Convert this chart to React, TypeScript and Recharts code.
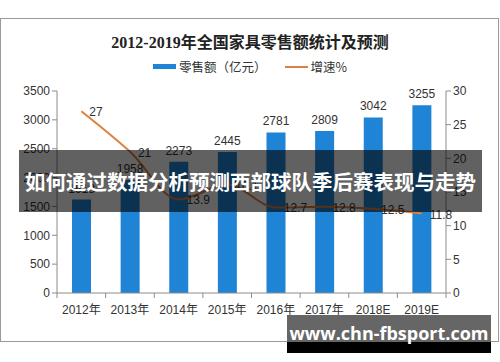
import React from 'react';
import {
  ComposedChart, Bar, Line, XAxis, YAxis, Legend, LabelList
} from 'recharts';

// chart values
const years = ['2012年', '2013年', '2014年', '2015年', '2016年', '2017年', '2018E', '2019E'];
const sales = [1618, 1958, 2273, 2445, 2781, 2809, 3042, 3255];
const growth = [27, 21, 13.9, 16.1, 12.7, 12.8, 12.5, 11.8];
const leftTicks = [0, 500, 1000, 1500, 2000, 2500, 3000, 3500];
const rightTicks = [0, 5, 10, 15, 20, 25, 30];

const BAR_BLUE = '#1f84d6';
const LINE_ORANGE = '#e07f3e';
const AXIS_GREY = '#8c8c8c';
const NUM_FONT = '"Liberation Sans", "Noto Sans CJK SC", sans-serif';

const data = years.map((year, i) => ({ year, sales: sales[i], growth: growth[i] }));

// x axis tick: label plus an Excel style tick mark on the category boundary
const HALF_BAND = 389 / years.length / 2;
const YearTick = (props: any) => {
  const { x, y, payload, index } = props;
  return (
    <g>
      <line x1={x - HALF_BAND} x2={x - HALF_BAND} y1={y - 8} y2={y - 3} stroke={AXIS_GREY} />
      {index === years.length - 1 && (
        <line x1={x + HALF_BAND} x2={x + HALF_BAND} y1={y - 8} y2={y - 3} stroke={AXIS_GREY} />
      )}
      <text x={x} y={y + 13} textAnchor="middle" fill="#333" fontSize={12} fontFamily={NUM_FONT}>
        {payload.value}
      </text>
    </g>
  );
};

const GrowthLabel = (props: any) => {
  const { x, y, value } = props;
  return (
    <text x={x + 8} y={y + 5} fill="#333" fontSize={12} fontFamily={NUM_FONT}>
      {value}
    </text>
  );
};

const LegendContent = () => (
  <div style={{ display: 'flex', justifyContent: 'center', alignItems: 'center', fontSize: 12.5, color: '#333', fontFamily: '"Noto Sans CJK SC", sans-serif' }}>
    <span style={{ display: 'inline-block', width: 23, height: 5, background: BAR_BLUE, marginRight: 3 }} />
    <span>零售额（亿元）</span>
    <span style={{ display: 'inline-block', width: 23, height: 2, background: LINE_ORANGE, marginLeft: 18, marginRight: 3 }} />
    <span>增速%</span>
  </div>
);

export default function App() {
  return (
    <div style={{ position: 'absolute', left: 0, top: 0, width: 500, height: 362, background: '#fff', overflow: 'hidden' }}>
      {/* chart frame */}
      <div style={{ position: 'absolute', left: 0, top: 18, width: 497, height: 322, border: '1px solid #9a9a9a' }} />

      {/* title */}
      <div style={{
        position: 'absolute', left: 0, top: 29, width: 500, textAlign: 'center',
        fontSize: 16, fontWeight: 700, color: '#222',
        fontFamily: '"Liberation Serif", "Noto Sans CJK SC", serif'
      }}>
        2012-2019年全国家具零售额统计及预测
      </div>

      <div style={{ position: 'absolute', left: 0, top: 0 }}>
        <ComposedChart width={500} height={362} data={data} margin={{ top: 72, right: 0, left: 0, bottom: 39 }}>
          <Legend verticalAlign="top" content={<LegendContent />} wrapperStyle={{ top: 57, left: 0, width: 500 }} />
          <XAxis
            dataKey="year"
            height={30}
            axisLine={{ stroke: AXIS_GREY }}
            tickLine={false}
            interval={0}
            tick={<YearTick />}
          />
          <YAxis
            yAxisId="left"
            width={57}
            domain={[0, 3500]}
            ticks={leftTicks}
            axisLine={{ stroke: AXIS_GREY }}
            tickLine={{ stroke: AXIS_GREY }}
            tickSize={5}
            tick={{ fill: '#333', fontSize: 12, fontFamily: NUM_FONT }}
          />
          <YAxis
            yAxisId="right"
            orientation="right"
            width={54}
            domain={[0, 30]}
            ticks={rightTicks}
            axisLine={{ stroke: AXIS_GREY }}
            tickLine={{ stroke: AXIS_GREY }}
            tickSize={5}
            tick={{ fill: '#333', fontSize: 12, fontFamily: NUM_FONT }}
          />
          <Bar yAxisId="left" dataKey="sales" fill={BAR_BLUE} barSize={19} isAnimationActive={false}>
            <LabelList dataKey="sales" position="top" offset={7} fill="#333" fontSize={12} fontFamily={NUM_FONT} />
          </Bar>
          <Line
            yAxisId="right"
            type="monotone"
            dataKey="growth"
            stroke={LINE_ORANGE}
            strokeWidth={2}
            dot={false}
            isAnimationActive={false}
          >
            <LabelList dataKey="growth" content={<GrowthLabel />} />
          </Line>
        </ComposedChart>
      </div>

      {/* grey banner over the chart */}
      <div style={{
        position: 'absolute', left: 19, top: 150, width: 463, height: 62,
        background: 'rgba(0,0,0,0.62)', color: '#fff', fontSize: 20.5, fontWeight: 700,
        display: 'flex', alignItems: 'center', justifyContent: 'center', whiteSpace: 'nowrap',
        fontFamily: '"Noto Sans CJK SC", sans-serif'
      }}>
        如何通过数据分析预测西部球队季后赛表现与走势
      </div>

      {/* site stamp bottom right */}
      <div style={{
        position: 'absolute', left: 287, top: 315, width: 204, height: 38,
        background: 'linear-gradient(#666 0%, #666 70%, #000 70%, #000 100%)'
      }} />
      <div style={{
        position: 'absolute', left: 287, top: 323, width: 204, textAlign: 'center',
        color: '#fff', fontSize: 18, fontWeight: 700, lineHeight: '20px',
        fontFamily: '"Open Sans", "Noto Sans", sans-serif'
      }}>
        www.chn-fbsport.com
      </div>
    </div>
  );
}
